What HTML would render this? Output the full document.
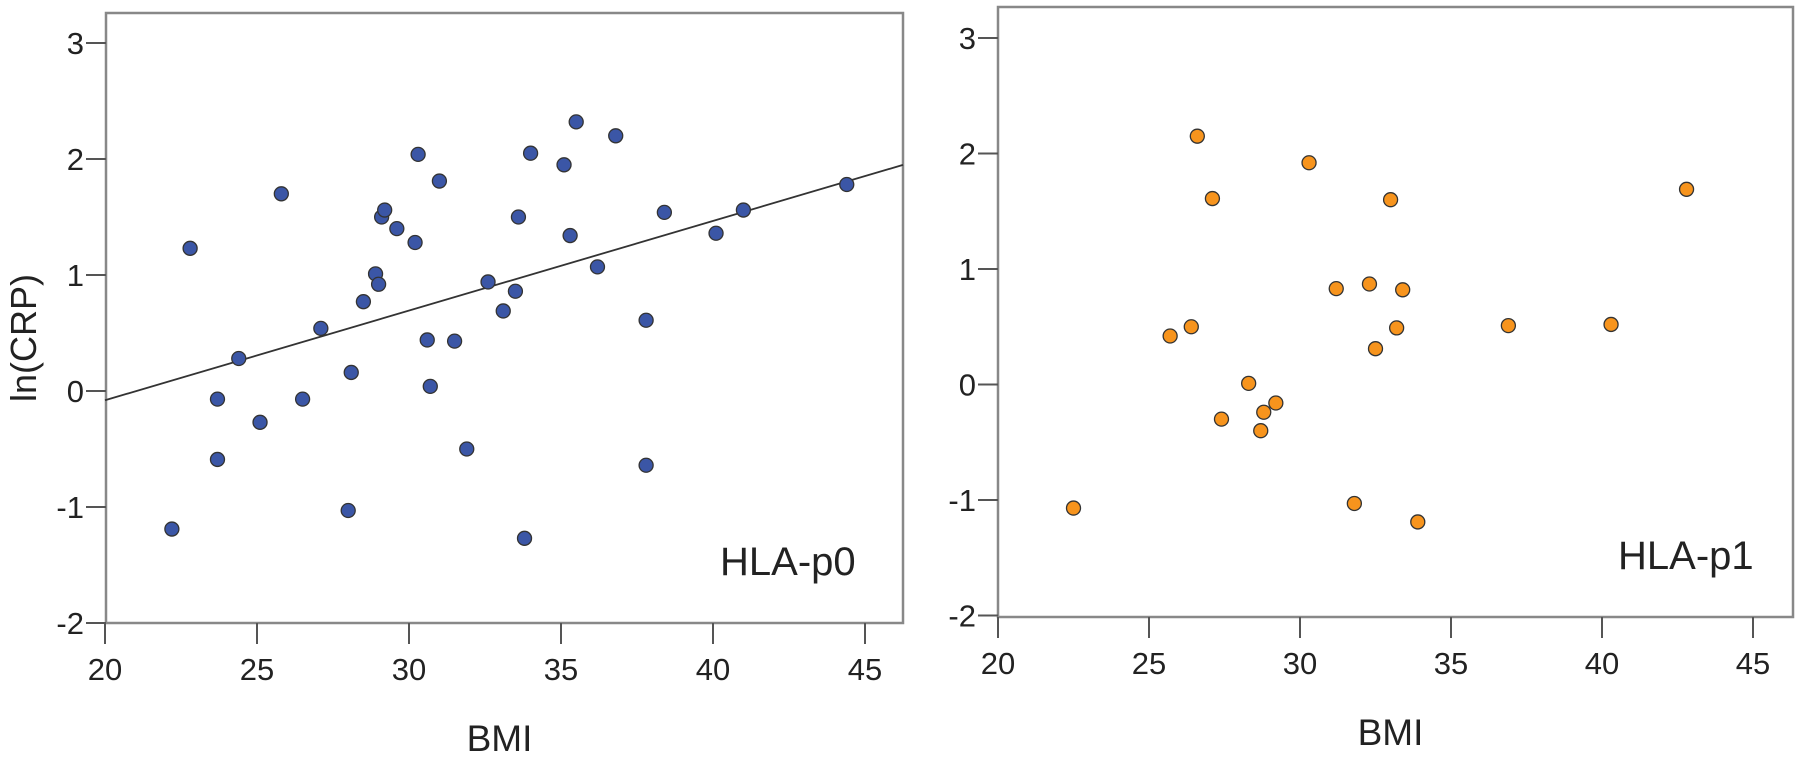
<!DOCTYPE html>
<html><head><meta charset="utf-8"><style>
body{margin:0;background:#fff;}
svg text{font-family:"Liberation Sans","DejaVu Sans",sans-serif;fill:#222;}
</style></head><body>
<svg id="chart" width="1800" height="759" viewBox="0 0 1800 759" xmlns="http://www.w3.org/2000/svg"></svg>
<script>
const xTicks=[20,25,30,35,40,45];
const yTicks=[3,2,1,0,-1,-2];
const p0Bmi=[22.2,22.8,23.7,23.7,24.4,25.1,25.8,26.5,27.1,28.0,28.1,28.5,28.9,29.0,29.1,29.2,29.6,30.2,30.3,30.6,30.7,31.0,31.5,31.9,32.6,33.1,33.5,33.6,33.8,34.0,35.1,35.3,35.5,36.2,36.8,37.8,37.8,38.4,40.1,41.0,44.4];
const p0Crp=[-1.19,1.23,-0.07,-0.59,0.28,-0.27,1.70,-0.07,0.54,-1.03,0.16,0.77,1.01,0.92,1.50,1.56,1.40,1.28,2.04,0.44,0.04,1.81,0.43,-0.50,0.94,0.69,0.86,1.50,-1.27,2.05,1.95,1.34,2.32,1.07,2.20,0.61,-0.64,1.54,1.36,1.56,1.78];
const p1Bmi=[22.5,25.7,26.4,26.6,27.1,27.4,28.3,28.7,28.8,29.2,30.3,31.2,31.8,32.3,32.5,33.0,33.2,33.4,33.9,36.9,40.3,42.8];
const p1Crp=[-1.07,0.42,0.50,2.15,1.61,-0.30,0.01,-0.40,-0.24,-0.16,1.92,0.83,-1.03,0.87,0.31,1.60,0.49,0.82,-1.19,0.51,0.52,1.69];
const fitLine=[-1.626,0.0773]; // intercept, slope

const NS="http://www.w3.org/2000/svg";
const svg=document.getElementById('chart');
function mk(tag,attrs,parent){const e=document.createElementNS(NS,tag);for(const k in attrs)e.setAttribute(k,attrs[k]);(parent||svg).appendChild(e);return e;}

const panels=[
 {name:'p0',left:106,top:13,right:903,bottom:623,x0:105,xs:30.4,y0:391,ys:116,bmi:p0Bmi,crp:p0Crp,fill:'#3b56a6',label:'HLA-p0',labelX:720,fit:true,ylab:true},
 {name:'p1',left:998,top:7,right:1793,bottom:617,x0:998,xs:30.2,y0:384.5,ys:115.5,bmi:p1Bmi,crp:p1Crp,fill:'#f7941d',label:'HLA-p1',labelX:1618,fit:false,ylab:false}
];
panels.forEach(p=>{
 const xf=v=>p.x0+(v-20)*p.xs;
 const yf=v=>p.y0-v*p.ys;
 const g=mk('g',{});
 
 
 const fr=mk('rect',{x:p.left,y:p.top,width:p.right-p.left,height:p.bottom-p.top,fill:'none',stroke:'#888',"stroke-width":2.5},g);
 
 
 yTicks.forEach(t=>{
  const y=yf(t);
  const tl=mk('line',{x1:p.left-20,x2:p.left,y1:y,y2:y,stroke:'#555',"stroke-width":2},g);
  
  
  const tx=mk('text',{x:p.left-22,y:y+11,"text-anchor":"end","font-size":31},g);
  tx.textContent=String(t);
  
  
 });
 xTicks.forEach(t=>{
  const x=xf(t);
  const tl=mk('line',{x1:x,x2:x,y1:p.bottom,y2:p.bottom+21,stroke:'#555',"stroke-width":2},g);
  
  
  const tx=mk('text',{x:x,y:p.bottom+57,"text-anchor":"middle","font-size":31},g);
  tx.textContent=String(t);
  
  
 });
 if(p.fit){
  const xa=20,xb=(p.right-p.x0)/p.xs+20;
  const ln=mk('line',{x1:xf(xa),y1:yf(fitLine[0]+fitLine[1]*xa),x2:xf(xb),y2:yf(fitLine[0]+fitLine[1]*xb),stroke:'#333',"stroke-width":1.8},g);
  
  
 }
 p.bmi.forEach((b,i)=>{
  const c=mk('circle',{cx:xf(b),cy:yf(p.crp[i]),r:7,fill:p.fill,stroke:'#333',"stroke-width":1.3},g);
  
  
 });
 const lb=mk('text',{x:p.labelX,y:p.bottom-48,"font-size":40},g);
 lb.textContent=p.label;
 
 
 const xt=mk('text',{x:(p.left+p.right)/2-5,y:p.bottom+128,"text-anchor":"middle","font-size":37},g);
 xt.textContent='BMI';
 
 
 if(p.ylab){
  const yt=mk('text',{x:0,y:0,"text-anchor":"middle","font-size":36,transform:'translate(36,338) rotate(-90)'},g);
  yt.textContent='ln(CRP)';
  
  
 }
});
</script>
</body></html>
